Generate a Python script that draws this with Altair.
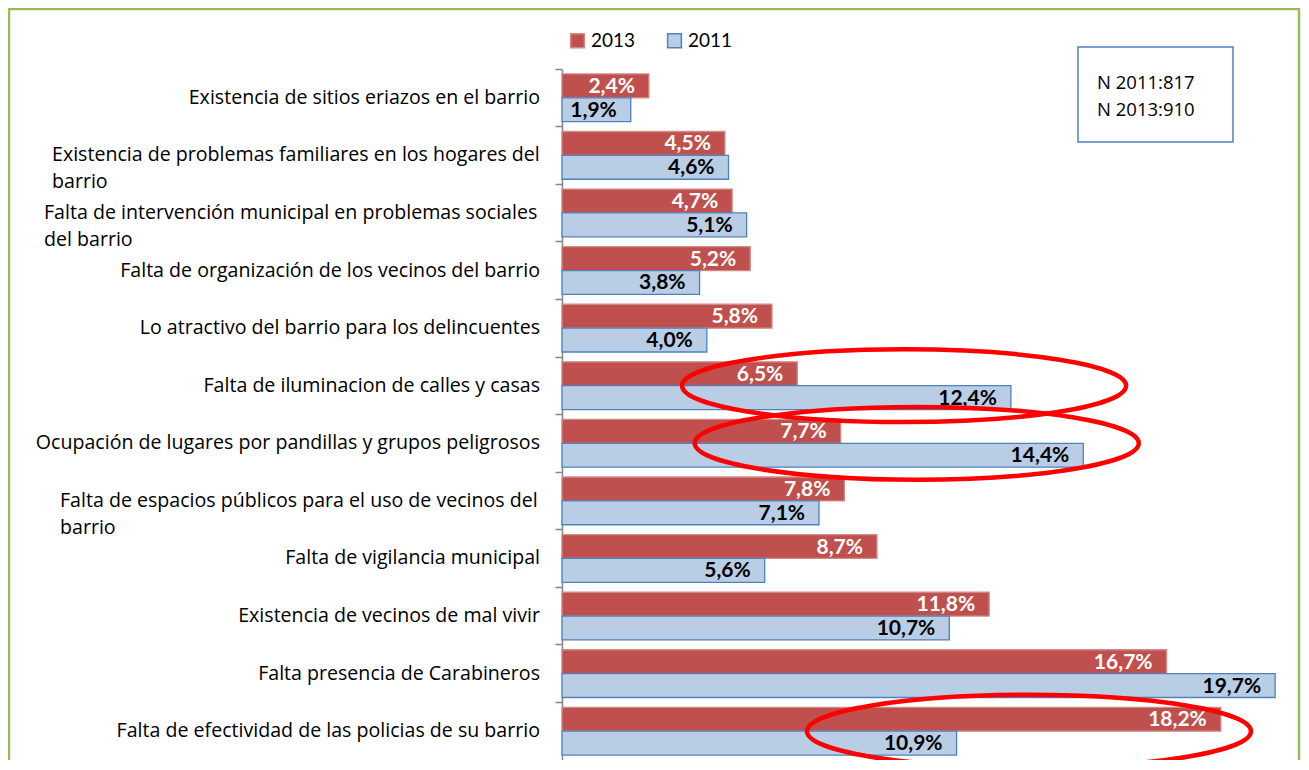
import altair as alt
import pandas as pd

CATEGORIES = [
    "Existencia de sitios eriazos en el barrio",
    "Existencia de problemas familiares en los hogares del\nbarrio",
    "Falta de intervención municipal en problemas sociales\ndel barrio",
    "Falta de organización de los vecinos del barrio",
    "Lo atractivo del barrio para los delincuentes",
    "Falta de iluminacion de calles y casas",
    "Ocupación de lugares por pandillas y grupos peligrosos",
    "Falta de espacios públicos para el uso de vecinos del\nbarrio",
    "Falta de vigilancia municipal",
    "Existencia de vecinos de mal vivir",
    "Falta presencia de Carabineros",
    "Falta de efectividad de las policias de su barrio",
]
SERIES = ["2013", "2011"]
VAL_2013 = [2.4, 4.5, 4.7, 5.2, 5.8, 6.5, 7.7, 7.8, 8.7, 11.8, 16.7, 18.2]
VAL_2011 = [1.9, 4.6, 5.1, 3.8, 4.0, 12.4, 14.4, 7.1, 5.6, 10.7, 19.7, 10.9]

# highlighted rows (annotation ellipses), centred at a value on the x scale
ELLIPSE_CATS = [CATEGORIES[5], CATEGORIES[6], CATEGORIES[11]]
ELLIPSE_X = [9.45, 9.8, 12.9]

N_TEXT = "N 2011:817\nN 2013:910"

RED = "#C0504D"
BLUE_FILL = "#B9CDE5"
BLUE_LINE = "#4F81BD"
FONT = "Open Sans"
NUM_FONT = "Lato"
LABEL_SIZE = 19.6

rows = []
for c, a, b in zip(CATEGORIES, VAL_2013, VAL_2011):
    rows.append({"cat": c, "serie": "2013", "value": a,
                 "label": f"{a:.1f}".replace(".", ",") + "%"})
    rows.append({"cat": c, "serie": "2011", "value": b,
                 "label": f"{b:.1f}".replace(".", ",") + "%"})
df = pd.DataFrame(rows)
cats_df = pd.DataFrame({"cat": CATEGORIES})
ell_df = pd.DataFrame({"cat": ELLIPSE_CATS, "x": ELLIPSE_X})

x_scale = alt.Scale(domain=[0, 20], nice=False, zero=True)
y_enc = alt.Y(
    "cat:N", sort=CATEGORIES,
    scale=alt.Scale(paddingInner=0.17, paddingOuter=0.085),
    axis=alt.Axis(labels=False, title=None, domainColor="#868686", domainWidth=1.5,
                  tickColor="#868686", tickSize=7, tickWidth=1.5, bandPosition=-0.1, grid=False),
)
yoff = alt.YOffset("serie:N", sort=SERIES, scale=alt.Scale(paddingInner=0, paddingOuter=0))

legend = alt.Legend(
    title=None, orient="none", legendX=6, legendY=-38, direction="horizontal",
    symbolType="square", symbolSize=190, symbolStrokeWidth=1.5,
    labelFont=NUM_FONT, labelFontSize=19, labelColor="black", columnPadding=28,
    labelOffset=4,
)

bars = alt.Chart(df).mark_bar(strokeWidth=1.3).encode(
    x=alt.X("value:Q", scale=x_scale, axis=None),
    y=y_enc,
    yOffset=yoff,
    color=alt.Color("serie:N", sort=SERIES,
                    scale=alt.Scale(domain=SERIES, range=[RED, BLUE_FILL]), legend=legend),
    stroke=alt.Stroke("serie:N", sort=SERIES,
                      scale=alt.Scale(domain=SERIES, range=["#D08A88", BLUE_LINE]), legend=legend),
)

values = alt.Chart(df).mark_text(
    align="right", baseline="middle", dx=-14, dy=1, font=NUM_FONT, fontSize=21, fontWeight="bold"
).encode(
    x=alt.X("value:Q", scale=x_scale, axis=None),
    y=alt.Y("cat:N", sort=CATEGORIES),
    yOffset=alt.YOffset("serie:N", sort=SERIES),
    text="label:N",
    color=alt.condition("datum.serie == '2013'", alt.value("white"), alt.value("black")),
)

single = alt.Chart(cats_df).transform_filter(
    "indexof(datum.cat, '\\n') < 0"
).mark_text(align="right", baseline="middle", font=FONT, fontSize=LABEL_SIZE, color="black").encode(
    x=alt.value(-22), y=alt.Y("cat:N", sort=CATEGORIES), text="cat:N"
)

WRAP_LEFT = {CATEGORIES[1]: -510, CATEGORIES[2]: -518, CATEGORIES[7]: -502}
wrapped = []
for cat, px in WRAP_LEFT.items():
    wrapped.append(
        alt.Chart(cats_df).transform_filter(alt.datum.cat == cat).mark_text(
            align="left", baseline="middle", font=FONT, fontSize=LABEL_SIZE, color="black",
            lineBreak="\n", lineHeight=27,
        ).encode(x=alt.value(px), y=alt.Y("cat:N", sort=CATEGORIES), text="cat:N")
    )

ellipse_path = "M -1 0 A 1 0.164 0 1 1 1 0 A 1 0.164 0 1 1 -1 0 Z"
ellipses = alt.Chart(ell_df).mark_point(
    shape=ellipse_path, size=444 * 444, filled=False, stroke="#FF0000",
    strokeWidth=4.5, opacity=1,
).encode(
    x=alt.X("x:Q", scale=x_scale, axis=None),
    y=alt.Y("cat:N", sort=CATEGORIES),
)

one = alt.Data(values=[{}])
nbox = alt.Chart(one).mark_rect(fill="white", stroke=BLUE_LINE, strokeWidth=1.5).encode(
    x=alt.value(516), x2=alt.value(671), y=alt.value(-22), y2=alt.value(73)
)
ntext = alt.Chart(one).mark_text(
    align="left", baseline="alphabetic", font=FONT, fontSize=18.5, lineBreak="\n",
    lineHeight=27, color="black", text=N_TEXT,
).encode(x=alt.value(535), y=alt.value(20))

border = alt.Chart(one).mark_rect(fill=None, stroke="#9BBB59", strokeWidth=2.5).encode(
    x=alt.value(-553), x2=alt.value(737), y=alt.value(-60), y2=alt.value(710)
)

chart = alt.layer(
    border, bars, values, single, *wrapped, nbox, ntext, ellipses
).properties(
    width=724, height=691,
    padding={"left": 554, "top": 61, "right": 15, "bottom": 0},
    autosize=alt.AutoSizeParams(type="none"),
).configure(background="white", view=alt.ViewConfig(stroke=None))

chart.save("out.html", embed_options={"renderer": "svg", "actions": False})
